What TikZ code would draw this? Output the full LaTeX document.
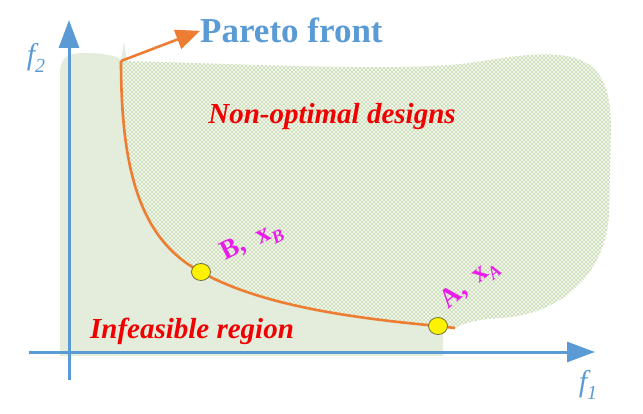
\documentclass[tikz,border=0pt]{standalone}
\usepackage{fontspec}
\newfontfamily\tnr{Liberation Serif}
\usetikzlibrary{arrows.meta,shapes.geometric}
\definecolor{axisblue}{RGB}{91,155,213}
\definecolor{paretoorange}{RGB}{237,125,49}
\definecolor{labelred}{RGB}{240,0,0}
\definecolor{labelmag}{RGB}{232,30,232}
\definecolor{infeas}{RGB}{228,236,220}
\definecolor{nonopt}{RGB}{245,248,240}
\definecolor{hatch}{RGB}{200,220,180}
\definecolor{ptborder}{RGB}{110,110,50}
\tikzset{
  axis/.style={draw=axisblue,line width=3pt,-{Triangle[length=28pt,width=20pt]}},
  front/.style={draw=paretoorange,line width=2.6pt},
  hatchline/.style={draw=hatch,line width=0.5pt},
  ptmark/.style={ellipse,draw=ptborder,line width=0.8pt,fill=yellow,minimum width=19pt,minimum height=17pt,inner sep=0pt},
  redlabel/.style={text=labelred,font=\tnr\bfseries\itshape\fontsize{29}{31}\selectfont,inner sep=0pt},
  maglabel/.style={text=labelmag,font=\tnr\bfseries\fontsize{27}{30}\selectfont,inner sep=0pt},
  axlabel/.style={text=axisblue,font=\tnr\itshape\fontsize{30}{32}\selectfont,inner sep=0pt}
}
\begin{document}
\begin{tikzpicture}[x=1pt,y=-1pt]
\useasboundingbox (0,0) rectangle (643,414);
% key coordinates
\coordinate (top) at (121,61);
\coordinate (Bp) at (201,272);
\coordinate (Ap) at (438,326);
\coordinate (fend) at (455,328);
% infeasible region
\fill[infeas] (60,356) -- (60,75) .. controls (60,58) and (66,53) .. (85,53)
  .. controls (100,53) and (112,55) .. (119,58) -- (top)
  .. controls (121,170) and (140,240) .. (Bp)
  .. controls (260,305) and (350,318) .. (Ap) -- (443,330) -- (443,356) -- cycle;
\fill[infeas] (121,60) -- (124,42) -- (127,60) -- cycle;
% non-optimal region
\def\nonoptpath{(top) .. controls (250,64) and (400,72) .. (470,63)
  .. controls (510,57) and (545,50) .. (575,58)
  .. controls (600,66) and (611,85) .. (611,130) -- (609,215)
  .. controls (605,275) and (560,315) .. (500,318)
  .. controls (475,319) and (460,325) .. (fend) -- (Ap)
  .. controls (350,318) and (260,305) .. (Bp)
  .. controls (140,240) and (121,170) .. (top) -- cycle}
\fill[nonopt] \nonoptpath;
\begin{scope}
\clip \nonoptpath;
\foreach \i in {-300,-296,...,620}{
  \draw[hatchline] (\i,40) -- ({\i+300},340);
  \draw[hatchline] (\i,340) -- ({\i+300},40);
}
\end{scope}
% axes
\coordinate (yb) at (69,380);
\coordinate (yt) at (69,20);
\coordinate (xl) at (29,352);
\coordinate (xr) at (595,352);
\draw[axis] (yb) -- (yt);
\draw[axis] (xl) -- (xr);
\node[axlabel] (f2) at (36,58) {f\raisebox{-0.25em}{\fontsize{20}{22}\selectfont 2}};
\node[axlabel] (f1) at (588,385) {f\raisebox{-0.25em}{\fontsize{20}{22}\selectfont 1}};
% Pareto front
\draw[front] (top) .. controls (121,170) and (140,240) .. (Bp)
  .. controls (260,305) and (350,318) .. (Ap) -- (fend);
\node[anchor=base west,inner sep=0pt,text=axisblue,font=\tnr\bfseries\fontsize{35}{37}\selectfont] (pf) at (200,43) {Pareto front};
\draw[front,-{Triangle[length=24pt,width=20pt]}] (top) -- (pf.west);
% points
\node[ptmark] (B) at (Bp) {};
\node[ptmark] (A) at (Ap) {};
% labels
\node[redlabel,anchor=base] (nod) at (332,124) {Non-optimal designs};
\node[redlabel,anchor=base] (inf) at (192,338) {Infeasible region};
\node[maglabel,rotate=26] (Bl) at (252,242) {B,\enspace x\raisebox{-0.25em}{\fontsize{18}{20}\selectfont\itshape B}};
\node[maglabel,rotate=40] (Al) at (470,284) {A,\enspace x\raisebox{-0.25em}{\fontsize{18}{20}\selectfont\itshape A}};
\end{tikzpicture}
\end{document}
